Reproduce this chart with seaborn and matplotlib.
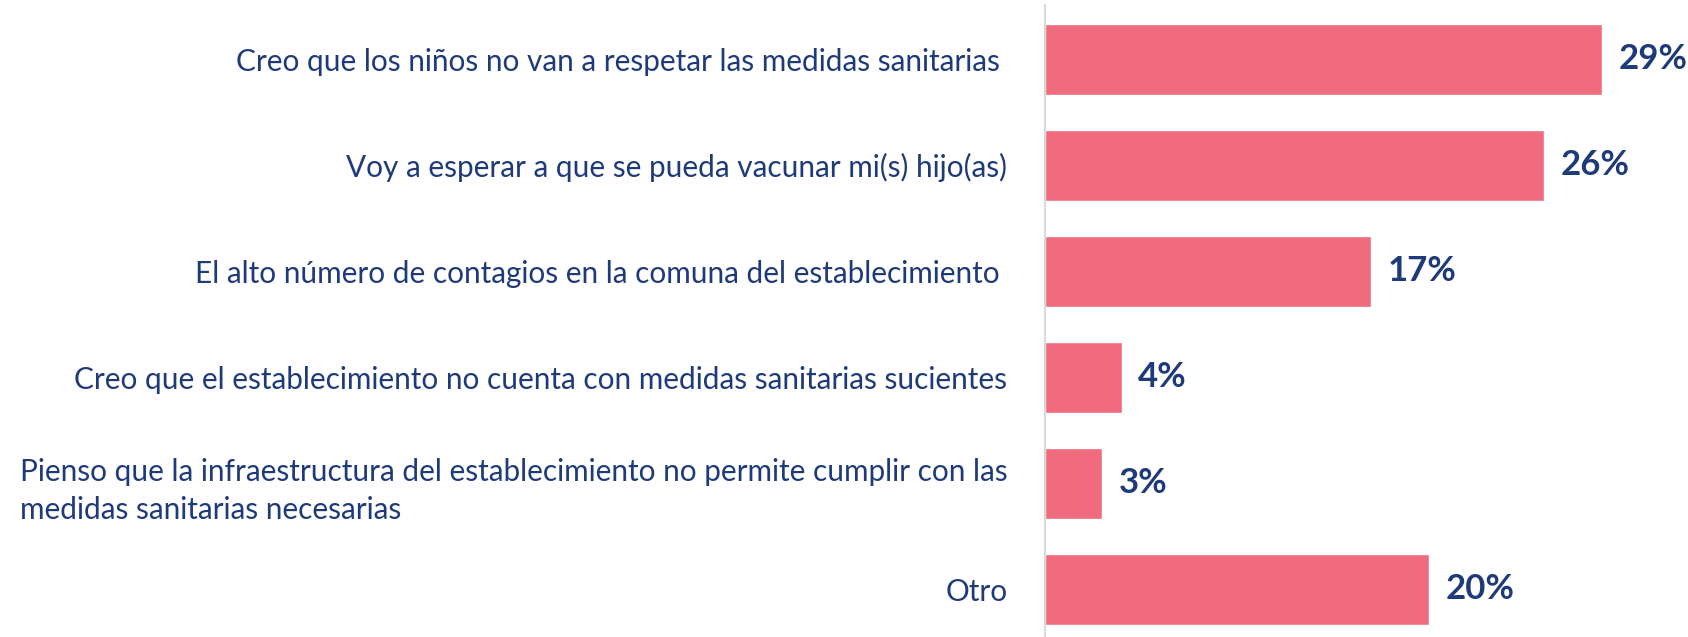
import pandas as pd
import matplotlib.pyplot as plt
import seaborn as sns

# --------------------------
# Data
# --------------------------
categories = [
    "Creo que los niños no van a respetar las medidas sanitarias ",
    "Voy a esperar a que se pueda vacunar mi(s) hijo(as)",
    "El alto número de contagios en la comuna del establecimiento ",
    "Creo que el establecimiento no cuenta con medidas sanitarias sucientes",
    "Pienso que la infraestructura del establecimiento no permite cumplir con las\nmedidas sanitarias necesarias",
    "Otro",
]
values = [29, 26, 17, 4, 3, 20]
value_labels = ["29%", "26%", "17%", "4%", "3%", "20%"]

BAR_COLOR = "#F06B7E"
TEXT_COLOR = "#1F3A78"

df = pd.DataFrame({"category": categories, "value": values})

# --------------------------
# Plot
# --------------------------
sns.set_style("white")
plt.rcParams['font.family'] = ['Lato', 'DejaVu Sans']

fig = plt.figure(figsize=(16.88, 6.37), dpi=100)
ax = fig.add_axes([0.619, 0.0, 0.381, 0.992])

sns.barplot(data=df, y="category", x="value", orient="h", color=BAR_COLOR,
            saturation=1, width=0.67, ax=ax)

for i, (v, lab) in enumerate(zip(values, value_labels)):
    ax.annotate(lab, xy=(v, i), xytext=(12, 0), textcoords="offset points",
                va="center", ha="left", fontsize=25, fontweight="bold",
                color=TEXT_COLOR)

ax.set_xlim(0, 33.5)
ax.set_ylim(5.45, -0.51)
ax.set_xlabel("")
ax.set_ylabel("")
ax.set_xticks([])

for side in ["top", "right", "bottom"]:
    ax.spines[side].set_visible(False)
ax.spines["left"].set_color("#D9D9D9")
ax.spines["left"].set_linewidth(1.5)

ax.tick_params(axis="y", length=0, pad=27, labelsize=21.4, labelcolor=TEXT_COLOR)
for t in ax.get_yticklabels():
    t.set_multialignment("left")
    t.set_linespacing(1.45)

fig.savefig("out.png", dpi=100)
